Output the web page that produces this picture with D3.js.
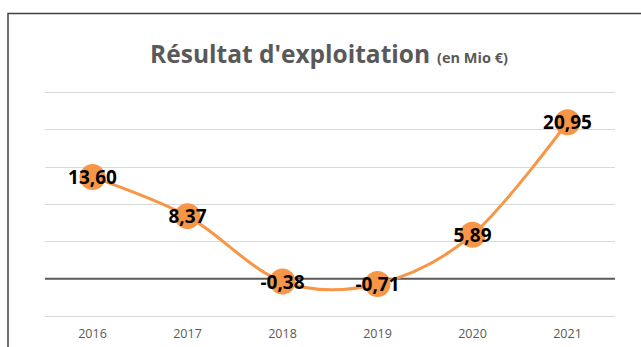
<!DOCTYPE html>
<html>
<head>
<meta charset="utf-8">
<script src="https://cdn.jsdelivr.net/npm/d3@7"></script>
<style>
  html, body { margin: 0; padding: 0; background: #fff; }
  svg { display: block; }
</style>
</head>
<body>
<svg id="chart" width="641" height="347"></svg>
<script>
// Operating result per year, in millions of euros
const years = ["2016", "2017", "2018", "2019", "2020", "2021"];
const values = [13.60, 8.37, -0.38, -0.71, 5.89, 20.95];
const yTicks = [-5, 0, 5, 10, 15, 20, 25];

const svg = d3.select("#chart");
const W = 641, H = 347;
const plot = { left: 45, right: 615, top: 92, bottom: 316 };
const font = "'Open Sans', 'Liberation Sans', sans-serif";

// Frame
svg.append("rect")
  .attr("x", 8).attr("y", 13.5)
  .attr("width", W + 20).attr("height", H + 20)
  .attr("fill", "#fff")
  .attr("stroke", "#404040").attr("stroke-width", 1.5);

// Title
const title = svg.append("text")
  .attr("x", 329).attr("y", 63)
  .attr("text-anchor", "middle")
  .attr("fill", "#595959")
  .style("font-family", font)
  .style("font-weight", "bold");
title.append("tspan").style("font-size", "24.5px").text("Résultat d'exploitation");
title.append("tspan").style("font-size", "14.5px").attr("dx", 7).text("(en Mio €)");

const x = d3.scaleBand().domain(years).range([plot.left, plot.right]);
const cx = d => x(d) + x.bandwidth() / 2;
const y = d3.scaleLinear().domain([-5, 25]).range([plot.bottom, plot.top]);

// Gridlines
svg.append("g")
  .selectAll("line")
  .data(yTicks.filter(t => t !== 0))
  .join("line")
  .attr("x1", plot.left).attr("x2", plot.right)
  .attr("y1", d => Math.round(y(d)) + 0.5).attr("y2", d => Math.round(y(d)) + 0.5)
  .attr("stroke", "#d9d9d9").attr("stroke-width", 1);

// Zero line
svg.append("line")
  .attr("x1", plot.left).attr("x2", plot.right)
  .attr("y1", y(0)).attr("y2", y(0))
  .attr("stroke", "#595959").attr("stroke-width", 2);

// Year labels
const xAxis = d3.axisBottom(x).tickSize(0).tickPadding(0);
const gx = svg.append("g")
  .attr("transform", `translate(0, ${plot.bottom + 13})`)
  .call(xAxis);
gx.select(".domain").remove();
gx.selectAll("text")
  .attr("fill", "#595959")
  .style("font-family", font)
  .style("font-size", "12.5px");

const data = years.map((yr, i) => ({ yr, v: values[i] }));
const orange = "#F79646";

// Smoothed line
const line = d3.line()
  .x(d => cx(d.yr))
  .y(d => y(d.v))
  .curve(d3.curveCardinal.tension(0));
svg.append("path")
  .datum(data)
  .attr("d", line)
  .attr("fill", "none")
  .attr("stroke", orange)
  .attr("stroke-width", 3);

// Markers
svg.append("g")
  .selectAll("circle")
  .data(data)
  .join("circle")
  .attr("cx", d => cx(d.yr))
  .attr("cy", d => y(d.v))
  .attr("r", 13)
  .attr("fill", orange);

// Value labels
const fmt = v => v.toFixed(2).replace(".", ",");
svg.append("g")
  .selectAll("text")
  .data(data)
  .join("text")
  .attr("x", d => cx(d.yr))
  .attr("y", d => y(d.v) + 7)
  .attr("text-anchor", "middle")
  .attr("fill", "#000")
  .style("font-family", font)
  .style("font-weight", "bold")
  .style("font-size", "19px")
  .text(d => fmt(d.v));
</script>
</body>
</html>
